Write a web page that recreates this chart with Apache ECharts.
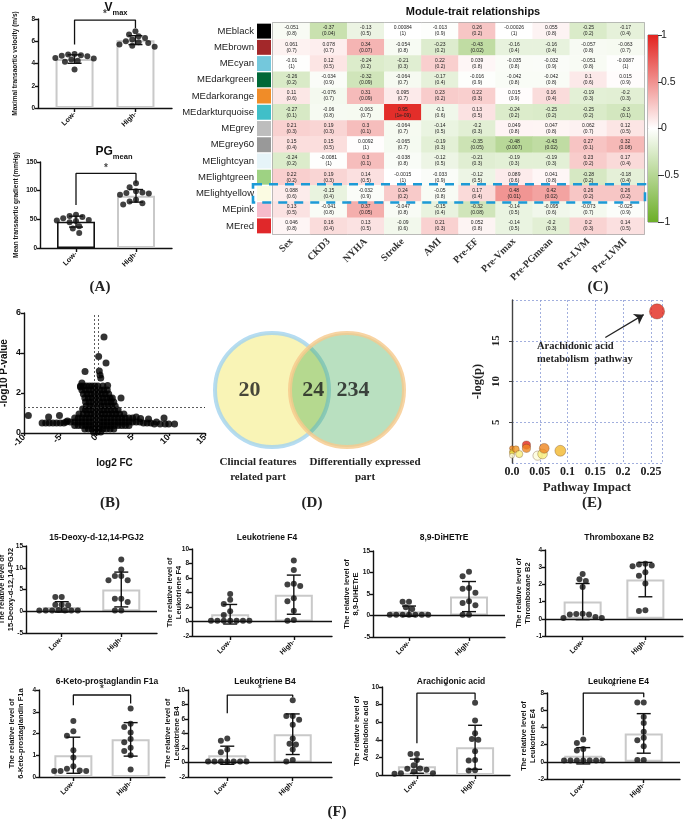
<!DOCTYPE html>
<html>
<head>
<meta charset="utf-8">
<script src="https://cdn.jsdelivr.net/npm/echarts@6/dist/echarts.min.js"></script>
<style>
  html, body { margin: 0; padding: 0; background: #fff; }
  #main { width: 685px; height: 821px; }
</style>
</head>
<body>
<div id="main"></div>
<script>
// ---------- data ----------
const groups = ['Low-', 'High-']

// (A) echo measurements
const vmaxLow = [4.85, 4.8, 4.75, 4.7, 4.65, 4.5, 4.45, 4.35, 4.25, 4.15, 3.45]
const vmaxHigh = [6.9, 6.6, 6.45, 6.3, 6.15, 6.0, 5.9, 5.85, 5.7, 5.6, 5.5]
const vmaxMean = [4.4, 6.1]
const vmaxSd = [0.38, 0.4]
const vmaxBracket = [5.7, 7.9, 7.2]
const pgLow = [58, 56, 54, 52, 49, 48, 47, 45, 38, 34, 26]
const pgHigh = [113, 106, 99, 97, 96, 95, 93, 84, 81, 78, 76]
const pgMean = [46, 91]
const pgSd = [9.5, 11]
const pgBracket = [75, 130, 113]

// (C) module-trait heatmap
const modules = ['MEblack', 'MEbrown', 'MEcyan', 'MEdarkgreen', 'MEdarkorange', 'MEdarkturquoise', 'MEgrey',
  'MEgrey60', 'MElightcyan', 'MElightgreen', 'MElightyellow', 'MEpink', 'MEred']
const moduleColors = ['#000000', '#a3282a', '#74c8dc', '#006837', '#f08c28', '#40bfc8', '#bdbdbd',
  '#999999', '#e6f4f8', '#9ed283', '#fbfbe2', '#f6bccb', '#e0282a']
const traits = ['Sex', 'CKD3', 'NYHA', 'Stroke', 'AMI', 'Pre-EF', 'Pre-Vmax', 'Pre-PGmean', 'Pre-LVM', 'Pre-LVMI']
const corr = [
  [-0.051, -0.37, -0.13, 0.00084, -0.013, 0.26, -0.00026, 0.055, -0.25, -0.17],
  [0.061, 0.078, 0.34, -0.054, -0.23, -0.43, -0.16, -0.16, -0.057, -0.063],
  [-0.01, 0.12, -0.24, -0.21, 0.22, 0.039, -0.035, -0.032, -0.051, -0.0087],
  [-0.26, -0.034, -0.32, -0.064, -0.17, -0.016, -0.042, -0.042, 0.1, 0.015],
  [0.11, -0.076, 0.31, 0.095, 0.23, 0.22, 0.015, 0.16, -0.19, -0.2],
  [-0.27, -0.06, -0.063, 0.95, -0.1, 0.13, -0.24, -0.25, -0.25, -0.3],
  [0.21, 0.19, 0.3, -0.064, -0.14, -0.2, 0.049, 0.047, 0.062, 0.12],
  [0.15, 0.15, 0.0092, -0.065, -0.19, -0.35, -0.48, -0.43, 0.27, 0.32],
  [-0.24, -0.0081, 0.3, -0.038, -0.12, -0.21, -0.19, -0.19, 0.23, 0.17],
  [0.22, 0.19, 0.14, -0.0015, -0.033, -0.12, 0.089, 0.041, -0.28, -0.18],
  [0.088, -0.15, -0.032, 0.24, -0.05, 0.17, 0.48, 0.42, 0.26, 0.26],
  [0.13, -0.041, 0.37, -0.047, -0.15, -0.32, -0.14, -0.095, -0.073, -0.025],
  [0.046, 0.16, 0.13, -0.09, 0.21, 0.052, -0.14, -0.2, 0.2, 0.14]
]
const pval = [
  ['0.8', '0.04', '0.5', '1', '0.9', '0.2', '1', '0.8', '0.2', '0.4'],
  ['0.7', '0.7', '0.07', '0.8', '0.2', '0.02', '0.4', '0.4', '0.8', '0.7'],
  ['1', '0.5', '0.2', '0.3', '0.2', '0.8', '0.8', '0.9', '0.8', '1'],
  ['0.2', '0.9', '0.09', '0.7', '0.4', '0.9', '0.8', '0.8', '0.6', '0.9'],
  ['0.6', '0.7', '0.09', '0.7', '0.2', '0.3', '0.9', '0.4', '0.3', '0.3'],
  ['0.1', '0.8', '0.7', '1e-09', '0.6', '0.5', '0.2', '0.2', '0.2', '0.1'],
  ['0.3', '0.3', '0.1', '0.7', '0.5', '0.3', '0.8', '0.8', '0.7', '0.5'],
  ['0.4', '0.5', '1', '0.7', '0.3', '0.05', '0.007', '0.02', '0.1', '0.08'],
  ['0.2', '1', '0.1', '0.8', '0.5', '0.3', '0.3', '0.3', '0.2', '0.4'],
  ['0.2', '0.3', '0.5', '1', '0.9', '0.5', '0.6', '0.8', '0.2', '0.4'],
  ['0.6', '0.4', '0.9', '0.2', '0.8', '0.4', '0.01', '0.02', '0.2', '0.2'],
  ['0.5', '0.8', '0.05', '0.8', '0.4', '0.08', '0.5', '0.6', '0.7', '0.9'],
  ['0.8', '0.4', '0.5', '0.6', '0.3', '0.8', '0.5', '0.3', '0.3', '0.5']
]
const highlightModule = 'MElightyellow'
const colorbarTicks = [-1, 1, 0.5]

// (B) volcano plot  [log2 FC, -log10 P]
const volcanoPoints = [
  [-9.4, 0.87], [-6.6, 0.8], [-5.1, 0.87], [-7.5, 0.5], [-7.0, 0.5], [-6.5, 0.5], [-6.0, 0.5], [-5.5, 0.5],
  [-5.0, 0.5], [-4.5, 0.5], [-4.0, 0.6],
  [-1.57, 3.08], [0.31, 3.83], [1.05, 4.8], [1.33, 3.5], [0.4, 3.1], [0.5, 2.9], [0.6, 2.75], [3.4, 1.75],
  [1.55, 2.37], [-2.0, 2.5], [-2.2, 2.3], [-1.9, 1.2], [-1.8, 0.95],
  [9.34, 0.75], [10.8, 0.45], [5.5, 0.8], [6.1, 0.72], [7.2, 0.7], [8.3, 0.55], [6.5, 0.5], [7.0, 0.5],
  [7.5, 0.5], [8.0, 0.45], [8.8, 0.45], [9.5, 0.45], [10.0, 0.45],
  [-2.2, 2.35], [-1.8, 2.35], [-1.4, 2.35], [-1.0, 2.35], [-0.6, 2.35], [-0.2, 2.35], [0.2, 2.35], [0.9, 2.35],
  [-2.0, 2.15], [-1.5, 2.15], [-1.0, 2.15], [-0.5, 2.15], [0, 2.15], [0.5, 2.15], [1.0, 2.15], [1.5, 2.15],
  [-1.8, 1.95], [-1.3, 1.95], [-0.8, 1.95], [-0.3, 1.95], [0.2, 1.95], [0.7, 1.95], [1.2, 1.95], [1.7, 1.95],
  [-1.6, 1.75], [-1.1, 1.75], [-0.6, 1.75], [-0.1, 1.75], [0.4, 1.75], [0.9, 1.75], [1.4, 1.75], [1.9, 1.75], [2.2, 1.75],
  [-1.5, 1.55], [-1.0, 1.55], [-0.5, 1.55], [0, 1.55], [0.5, 1.55], [1.0, 1.55], [1.5, 1.55], [2.0, 1.55], [2.4, 1.55],
  [-1.4, 1.35], [-0.9, 1.35], [-0.4, 1.35], [0.1, 1.35], [0.6, 1.35], [1.1, 1.35], [1.6, 1.35], [2.1, 1.35], [2.6, 1.35],
  [-1.5, 1.15], [-1.0, 1.15], [-0.5, 1.15], [0, 1.15], [0.5, 1.15], [1.0, 1.15], [1.5, 1.15], [2.0, 1.15], [2.5, 1.15], [3.0, 1.15],
  [-2.4, 0.95], [-1.3, 0.95], [-0.8, 0.95], [-0.3, 0.95], [0.2, 0.95], [0.7, 0.95], [1.2, 0.95], [1.7, 0.95],
  [2.2, 0.95], [2.7, 0.95], [3.2, 0.95], [3.8, 0.95],
  [-3.0, 0.75], [-2.5, 0.75], [-2.0, 0.75], [-1.5, 0.75], [-1.0, 0.75], [-0.5, 0.75], [0, 0.75], [0.5, 0.75], [1.0, 0.75],
  [1.5, 0.75], [2.0, 0.75], [2.5, 0.75], [3.0, 0.75], [3.5, 0.75], [4.0, 0.75], [4.5, 0.75], [5.0, 0.75],
  [-4.2, 0.55], [-3.6, 0.55], [-3.0, 0.55], [-2.5, 0.55], [-2.0, 0.55], [-1.5, 0.55], [-1.0, 0.55], [-0.5, 0.55], [0, 0.55],
  [0.5, 0.55], [1.0, 0.55], [1.5, 0.55], [2.0, 0.55], [2.5, 0.55], [3.0, 0.55], [3.5, 0.55], [4.0, 0.55], [4.5, 0.55],
  [5.0, 0.55], [5.5, 0.55], [6.0, 0.55],
  [-3.0, 0.38], [-2.5, 0.38], [-2.0, 0.38], [-1.5, 0.38], [-1.0, 0.38], [-0.5, 0.38], [0, 0.38], [0.5, 0.38],
  [1.0, 0.38], [1.5, 0.38], [2.0, 0.38], [2.5, 0.38], [3.0, 0.38], [3.5, 0.38], [4.0, 0.38], [4.5, 0.38],
  [-1.6, 0.2], [-1.1, 0.2], [-0.6, 0.2], [-0.1, 0.2], [0.4, 0.2], [0.9, 0.2], [1.4, 0.2], [1.9, 0.2], [2.4, 0.2],
  [-0.4, 0.05], [0.1, 0.05], [0.6, 0.05]
]
const fcCutoffs = [-0.32, 0.32]
const pCutoff = 1.3

// (D) venn
const vennSets = ['Clincial features\nrelated part', 'Differentially expressed\npart']
const vennCounts = [20, 24, 234]

// (E) pathway analysis
const pathImpact = [0, 0, 0, 0, 0.007, 0.013, 0.026, 0.026, 0.046, 0.055, 0.058, 0.087, 0.261]
const pathLogP = [1.8, 1.4, 1.2, 0.9, 1.7, 1.1, 2.2, 1.8, 0.9, 1.1, 1.8, 1.5, 18.6]

// (F) metabolite levels
const fNames = ['15-Deoxy-d-12,14-PGJ2', 'Leukotriene F4', '8,9-DiHETrE', 'Thromboxane B2',
  '6-Keto-prostaglandin F1a', 'Leukotriene B4', 'Arachidonic acid', 'Leukotriene E4']
const fLow = [
  [3.3, 3.3, 1.5, 1.5, 1.4, 0.3, 0.2, 0.2, 0.2, 0.2, 0.2, 0.2],
  [3.8, 3.0, 2.4, 1.4, 0.9, 0.1, 0.1, 0.1, 0.1, 0.1, 0.1, 0.1],
  [3.2, 3.2, 1.9, 1.5, 0.2, 0.2, 0.2, 0.2, 0.2, 0.2, 0.2],
  [2.6, 2.3, 2.2, 1.85, 0.3, 0.28, 0.25, 0.25, 0.1, 0.05, 0.05],
  [2.58, 2.1, 1.9, 1.23, 0.9, 0.5, 0.38, 0.3, 0.28, 0.28, 0.28],
  [3.3, 3.0, 1.8, 1.4, 0.15, 0.15, 0.15, 0.15, 0.15, 0.15, 0.15],
  [2.4, 2.4, 1.7, 1.1, 0.75, 0.7, 0.6, 0.4, 0.2, 0.2, 0.15],
  [2.6, 2.2, 1.5, 1.3, 0.15, 0.15, 0.15, 0.15, 0.15, 0.15, 0.15]
]
const fHigh = [
  [11.9, 9.6, 8.1, 8.1, 7.1, 7.1, 2.9, 2.9, 2.1, 0.2, 0.2],
  [8.4, 7.1, 5.2, 5.1, 4.9, 3.2, 2.8, 1.5, 0.2, 0.1],
  [10.2, 9.1, 6.4, 6.2, 5.3, 3.3, 2.9, 2.4, 0.2, 0.2],
  [3.2, 3.15, 3.1, 3.05, 2.7, 2.5, 2.05, 0.5, 0.45],
  [3.15, 2.45, 2.3, 2.05, 1.75, 1.6, 1.35, 1.2, 1.0, 0.35],
  [8.6, 6.4, 6.4, 5.9, 5.2, 3.3, 2.6, 2.5, 1.8, 0.35, 0.15],
  [8.2, 6.2, 4.75, 4.1, 4.0, 2.7, 1.7, 1.65, 0.55, 0.5],
  [6.9, 6.9, 5.2, 4.5, 3.5, 2.8, 2.5, 1.8, 0.2, 0.2]
]
const fMean = [[1.0, 5.0], [1.0, 3.7], [1.0, 4.4], [1.0, 2.28], [1.0, 1.73], [1.0, 3.9], [1.0, 3.15], [0.7, 3.3]]
const fSd = [[1.2, 4.0], [1.35, 2.7], [1.2, 3.5], [1.05, 1.0], [0.83, 0.77], [1.25, 2.8], [0.8, 2.5], [0.95, 2.3]]
const fBracket = [null, null, null, null, [3.3, 3.77, 3.38], [6.8, 9.3, 9.0], [3.6, 9.3, 8.55], [3.1, 8.0, 7.5]]
const fTicks = [[-5, 15, 5], [-2, 10, 2], [-5, 15, 5], [-1, 4, 1], [0, 4, 1], [-2, 10, 2], [0, 10, 2], [-2, 8, 2]]

// ---------- layout ----------
const sans = '"Liberation Sans", Arial, sans-serif'
const serif = '"Liberation Serif", "Times New Roman", serif'
const ink = '#111'
const fRects = [[26, 546, 131, 87], [192, 549, 140, 87], [373, 551, 132, 86], [545, 550, 138, 86],
  [39, 690, 126, 87], [188, 690, 144, 87], [382, 687, 128, 88], [547, 693, 133, 86]]
const fNameGaps = [11, 9, 13, 13, 14, 7, 12, 10]
const heatRect = [273, 23, 371, 211]

const grids = []
const xAxes = []
const yAxes = []
const series = []
const titles = []
const graphics = []
const visualMaps = []

function addGrid (rect, x, y) {
  const i = grids.length
  grids.push({ left: rect[0], top: rect[1], width: rect[2], height: rect[3], outerBoundsMode: 'none' })
  xAxes.push(Object.assign({ gridIndex: i }, x))
  yAxes.push(Object.assign({ gridIndex: i }, y))
  return i
}

// beeswarm-like spreading of dots that share a value
function swarm (vals, cx, yPx, xPx, r) {
  const placed = []
  return vals.map(v => {
    const py = v * yPx
    let off = 0
    for (let k = 0; k < 60; k++) {
      const cand = k === 0 ? 0 : (k % 2 ? -1 : 1) * Math.ceil(k / 2) * r
      if (placed.every(p => (p[0] - cand) ** 2 + (p[1] - py) ** 2 >= (1.8 * r) ** 2)) { off = cand; break }
    }
    placed.push([off, py])
    return [cx + off / xPx, v]
  })
}

function errorBarItem (params, api) {
  const x = api.value(0)
  const lo = api.coord([x, api.value(1)])
  const hi = api.coord([x, api.value(2)])
  const w = 7
  const style = { stroke: ink, lineWidth: 1.4 }
  return {
    type: 'group',
    children: [
      { type: 'line', shape: { x1: lo[0], y1: lo[1], x2: hi[0], y2: hi[1] }, style },
      { type: 'line', shape: { x1: lo[0] - w, y1: lo[1], x2: lo[0] + w, y2: lo[1] }, style },
      { type: 'line', shape: { x1: hi[0] - w, y1: hi[1], x2: hi[0] + w, y2: hi[1] }, style }
    ]
  }
}

function barPanel (rect, ticks, yName, nameGap, nameSize, low, high, mean, sd, bracket, lowBorder) {
  const [min, max, step] = ticks
  const axisLine = { color: ink, width: 1.4 }
  const g = addGrid(rect, {
    type: 'value', min: -0.6, max: 1.6,
    axisLine: { show: true, onZero: false, lineStyle: axisLine },
    axisTick: { show: true, customValues: [0, 1], length: 4, lineStyle: axisLine },
    axisLabel: {
      customValues: [0, 1], formatter: v => groups[Math.round(v)], rotate: 45, margin: 5,
      fontFamily: sans, fontWeight: 'bold', fontSize: 7, color: ink
    },
    splitLine: { show: false }
  }, {
    type: 'value', min, max, interval: step,
    name: yName, nameLocation: 'middle', nameGap, nameRotate: 90, nameMoveOverlap: false,
    nameTextStyle: { fontFamily: sans, fontWeight: 'bold', fontSize: nameSize, color: ink, lineHeight: nameSize + 1.5 },
    axisLine: { show: true, onZero: false, lineStyle: axisLine },
    axisTick: { show: true, length: 3, lineStyle: axisLine },
    axisLabel: { fontFamily: sans, fontWeight: 'bold', fontSize: 6.5, color: ink, margin: 3 },
    splitLine: { show: false }
  })
  const yPx = rect[3] / (max - min)
  const xPx = rect[2] / 2.2
  series.push({
    type: 'bar', xAxisIndex: g, yAxisIndex: g, barWidth: 38, silent: true, z: 2,
    data: mean.map((m, i) => ({ value: [i, m], itemStyle: i === 0 && lowBorder ? { borderColor: lowBorder, borderWidth: 1.6 } : {} })),
    itemStyle: { color: '#fff', borderColor: '#c9c9c9', borderWidth: 2 },
    markLine: min < 0 ? {
      silent: true, symbol: ['none', 'none'], label: { show: false },
      lineStyle: { color: ink, width: 1.4, type: 'solid' },
      data: [{ yAxis: 0 }]
    } : undefined
  })
  series.push({
    type: 'scatter', xAxisIndex: g, yAxisIndex: g, symbolSize: 6, silent: true, z: 3,
    itemStyle: { color: ink },
    data: swarm(low, 0, yPx, xPx, 3.2).concat(swarm(high, 1, yPx, xPx, 3.2))
  })
  series.push({
    type: 'custom', xAxisIndex: g, yAxisIndex: g, silent: true, z: 4,
    renderItem: errorBarItem, encode: { x: 0, y: [1, 2] },
    data: mean.map((m, i) => [i, m - sd[i], m + sd[i]])
  })
  if (bracket) {
    series.push({
      type: 'line', xAxisIndex: g, yAxisIndex: g, symbol: 'none', silent: true, z: 5,
      lineStyle: { color: ink, width: 1.3 },
      data: [[0, bracket[0]], [0, bracket[1]], [1, bracket[1]], [1, bracket[2]]]
    })
    series.push({
      type: 'scatter', xAxisIndex: g, yAxisIndex: g, symbolSize: 1, silent: true, z: 5,
      itemStyle: { color: 'rgba(0,0,0,0)' },
      label: { show: true, formatter: '*', position: 'top', distance: 0, fontSize: 10, fontWeight: 'bold', color: ink, fontFamily: sans },
      data: [[0.5, bracket[1]]]
    })
  }
  return g
}

// ---------- (A) ----------
barPanel([38, 19, 134, 89], [0, 8, 2], 'Maximal transaortic velocity (m/s)', 19, 6.5,
  vmaxLow, vmaxHigh, vmaxMean, vmaxSd, vmaxBracket)
barPanel([40, 162, 132, 86], [0, 150, 50], 'Mean transaortic gradient (mmHg)', 20, 6.5,
  pgLow, pgHigh, pgMean, pgSd, pgBracket, ink)
const subRich = {
  v: { fontSize: 12, fontWeight: 'bold', fontFamily: sans, color: ink, lineHeight: 15, verticalAlign: 'top' },
  s: { fontSize: 7.5, fontWeight: 'bold', fontFamily: sans, color: ink, lineHeight: 8, verticalAlign: 'bottom' }
}
titles.push({ text: '{v|V}{s|max}', left: 111, top: -3, textAlign: 'center', textStyle: { rich: subRich } })
titles.push({ text: '{v|PG}{s|mean}', left: 109, top: 141, textAlign: 'center', textStyle: { rich: subRich } })

// ---------- (C) heatmap ----------
const modGrid = addGrid([257, heatRect[1], 14, heatRect[3]],
  { type: 'value', min: 0, max: 1, show: false },
  {
    type: 'category', data: modules, inverse: true,
    axisLine: { show: false }, axisTick: { show: false },
    axisLabel: { fontFamily: sans, fontSize: 9.5, color: '#222', margin: 3 }
  })
series.push({
  type: 'bar', xAxisIndex: modGrid, yAxisIndex: modGrid, barCategoryGap: '8%', silent: true,
  data: moduleColors.map(c => ({ value: 1, itemStyle: { color: c } }))
})
const heatGrid = addGrid(heatRect,
  {
    type: 'category', data: traits,
    axisLine: { show: false }, axisTick: { show: false },
    axisLabel: { rotate: 45, margin: 6, fontFamily: serif, fontWeight: 'bold', fontSize: 10, color: '#333', interval: 0 }
  },
  { type: 'category', data: modules, inverse: true, axisLine: { show: false }, axisTick: { show: false }, axisLabel: { show: false } })
grids[heatGrid].show = true
grids[heatGrid].borderColor = '#8a8a8a'
grids[heatGrid].borderWidth = 1.5
grids[heatGrid].backgroundColor = 'rgba(0,0,0,0)'
const heatData = []
corr.forEach((row, r) => row.forEach((v, c) => heatData.push([c, r, v])))
series.push({
  type: 'heatmap', xAxisIndex: heatGrid, yAxisIndex: heatGrid, silent: true,
  data: heatData,
  label: {
    show: true, fontFamily: sans, fontSize: 5, lineHeight: 6, color: '#222',
    formatter: p => p.value[2] + '\n(' + pval[p.value[1]][p.value[0]] + ')'
  }
})
visualMaps.push({
  show: false, seriesIndex: series.length - 1, dimension: 2, min: -1, max: 1,
  inRange: { color: ['#6cae28', '#ffffff', '#e2231f'] }
})
titles.push({
  text: 'Module-trait relationships', left: 468, top: 1, textAlign: 'center',
  textStyle: { fontFamily: sans, fontWeight: 'bold', fontSize: 11, color: ink }
})
// colour key
const barGrid = addGrid([648, 35, 10, 187],
  { type: 'category', data: [''], show: false },
  {
    type: 'value', position: 'right', min: colorbarTicks[0], max: colorbarTicks[1], interval: colorbarTicks[2],
    axisLine: { show: false }, axisTick: { show: true, length: 4, lineStyle: { color: '#333' } },
    axisLabel: { fontFamily: sans, fontSize: 10.5, color: '#222', margin: 3 },
    splitLine: { show: false }
  })
grids[barGrid].show = true
grids[barGrid].borderColor = '#777'
grids[barGrid].borderWidth = 1
grids[barGrid].backgroundColor = 'rgba(0,0,0,0)'
series.push({
  type: 'bar', xAxisIndex: barGrid, yAxisIndex: barGrid, barWidth: '100%', barGap: '-100%', silent: true,
  data: [colorbarTicks[1]],
  itemStyle: { color: { type: 'linear', x: 0, y: 0, x2: 0, y2: 1, colorStops: [{ offset: 0, color: '#e2231f' }, { offset: 1, color: '#ffffff' }] } }
})
series.push({
  type: 'bar', xAxisIndex: barGrid, yAxisIndex: barGrid, barWidth: '100%', barGap: '-100%', silent: true,
  data: [colorbarTicks[0]],
  itemStyle: { color: { type: 'linear', x: 0, y: 0, x2: 0, y2: 1, colorStops: [{ offset: 0, color: '#ffffff' }, { offset: 1, color: '#6cae28' }] } }
})
// dashed highlight around one module row
const rowH = heatRect[3] / modules.length
const hiRow = modules.indexOf(highlightModule)
graphics.push({
  type: 'rect', z: 100, silent: true,
  shape: { x: 253, y: heatRect[1] + hiRow * rowH - 1, width: heatRect[0] + heatRect[2] + 1 - 253, height: rowH + 2 },
  style: { fill: 'none', stroke: '#1c9ad6', lineWidth: 2.6, lineDash: [9, 7] }
})

// ---------- (B) volcano ----------
const volGrid = addGrid([24, 313, 181, 120],
  {
    type: 'value', min: -10, max: 15, interval: 5,
    name: 'log2 FC', nameLocation: 'middle', nameGap: 25,
    nameTextStyle: { fontFamily: sans, fontWeight: 'bold', fontSize: 10, color: ink },
    axisLine: { show: true, onZero: false, lineStyle: { color: ink, width: 1.4 } },
    axisTick: { show: true, length: 3, lineStyle: { color: ink, width: 1.4 } },
    axisLabel: { rotate: 45, fontFamily: sans, fontWeight: 'bold', fontSize: 9, color: ink, margin: 3 },
    splitLine: { show: false }
  },
  {
    type: 'value', min: 0, max: 6, interval: 2,
    name: '-log10 P-value', nameLocation: 'middle', nameGap: 15,
    nameTextStyle: { fontFamily: sans, fontWeight: 'bold', fontSize: 10, color: ink },
    axisLine: { show: true, onZero: false, lineStyle: { color: ink, width: 1.4 } },
    axisTick: { show: true, length: 3, lineStyle: { color: ink, width: 1.4 } },
    axisLabel: { fontFamily: sans, fontWeight: 'bold', fontSize: 9, color: ink, margin: 3 },
    splitLine: { show: false }
  })
series.push({
  type: 'scatter', xAxisIndex: volGrid, yAxisIndex: volGrid, symbolSize: 7, silent: true,
  itemStyle: { color: '#000' },
  data: volcanoPoints,
  markLine: {
    silent: true, symbol: ['none', 'none'], label: { show: false },
    lineStyle: { color: '#333', width: 0.8, type: [2, 2] },
    data: [{ xAxis: fcCutoffs[0] }, { xAxis: fcCutoffs[1] }, { yAxis: pCutoff }]
  }
})

// ---------- (D) venn ----------
const vennGrid = addGrid([197, 330, 225, 120],
  { type: 'value', min: 0, max: 3, show: false },
  { type: 'value', min: 0, max: 1, show: false })
series.push({
  type: 'scatter', xAxisIndex: vennGrid, yAxisIndex: vennGrid, symbolSize: 114, silent: true,
  data: [
    { value: [1, 0.5], itemStyle: { color: '#f8f1a4', borderColor: '#a3d3ef', borderWidth: 4 } },
    { value: [2, 0.5], itemStyle: { color: 'rgba(48,162,68,0.42)', borderColor: '#f6c98c', borderWidth: 4 } }
  ]
})
const vennLabelX = [0.7, 1.55, 2.08]
series.push({
  type: 'scatter', xAxisIndex: vennGrid, yAxisIndex: vennGrid, symbolSize: 1, silent: true, z: 5,
  itemStyle: { color: 'rgba(0,0,0,0)' },
  label: {
    show: true, position: 'inside', formatter: p => String(p.value[2]),
    fontFamily: serif, fontWeight: 'bold', fontSize: 22, color: '#1a1a1a'
  },
  data: vennCounts.map((n, i) => [vennLabelX[i], 0.5, n])
})
;[[258, vennSets[0]], [365, vennSets[1]]].forEach(([x, t]) => {
  graphics.push({
    type: 'text', x, y: 455, silent: true,
    style: { text: t, font: 'bold 11px ' + serif, fill: '#222', textAlign: 'center', align: 'center', textVerticalAlign: 'top', verticalAlign: 'top', lineHeight: 15 }
  })
})

// ---------- (E) pathway impact ----------
const pathGrid = addGrid([512, 300, 150, 163],
  {
    type: 'value', min: 0, max: 0.27, interval: 0.05,
    name: 'Pathway Impact', nameLocation: 'middle', nameGap: 18,
    nameTextStyle: { fontFamily: serif, fontWeight: 'bold', fontSize: 12.5, color: '#222' },
    axisLine: { show: false }, axisTick: { show: false },
    axisLabel: { showMaxLabel: false, formatter: v => (v === 0 ? '0.0' : String(+v.toFixed(2))), fontFamily: serif, fontWeight: 'bold', fontSize: 12, color: '#222', margin: 3 },
    splitLine: { show: true, lineStyle: { color: '#8b9bd6', type: [2, 2], width: 0.8 } }
  },
  {
    type: 'value', min: 0, max: 20, interval: 5, offset: 6,
    name: '-log(p)', nameLocation: 'middle', nameGap: 22,
    nameTextStyle: { fontFamily: serif, fontWeight: 'bold', fontSize: 12.5, color: '#222' },
    axisLine: { show: true, lineStyle: { color: '#444', width: 1.4 } },
    axisTick: { show: true, length: 3, lineStyle: { color: '#444' } },
    axisLabel: { showMinLabel: false, showMaxLabel: false, rotate: 90, fontFamily: serif, fontWeight: 'bold', fontSize: 11, color: '#222', margin: 4 },
    splitLine: { show: true, lineStyle: { color: '#8b9bd6', type: [2, 2], width: 0.8 } }
  })
series.push({
  type: 'scatter', xAxisIndex: pathGrid, yAxisIndex: pathGrid, silent: true, z: 3,
  symbolSize: v => 5 + 20 * Math.sqrt(v[0]),
  itemStyle: { borderColor: 'rgba(90,50,20,0.55)', borderWidth: 0.7 },
  data: pathImpact.map((x, i) => [x, pathLogP[i]]),
  markLine: {
    silent: true, symbol: ['none', 'arrow'], symbolSize: 9, label: { show: false },
    lineStyle: { color: '#222', width: 1.3, type: 'solid' },
    data: [[{ coord: [0.168, 15.4] }, { coord: [0.237, 18.2] }]]
  }
})
visualMaps.push({
  show: false, seriesIndex: series.length - 1, dimension: 1, min: 0.9, max: 2.2,
  inRange: { color: ['#fdfbd8', '#f3e640', '#f2b02a', '#ee7a1e', '#e2281c'] }
})
graphics.push({
  type: 'text', x: 537, y: 340, silent: true,
  style: { text: 'Arachidonic acid\nmetabolism  pathway', font: 'bold 10.5px ' + serif, fill: '#222', lineHeight: 13 }
})

// ---------- (F) ----------
fNames.forEach((name, i) => {
  const r = fRects[i]
  barPanel(r, fTicks[i], 'The relative level of\n' + name, fNameGaps[i], 7.5,
    fLow[i], fHigh[i], fMean[i], fSd[i], fBracket[i])
  titles.push({
    text: name, left: r[0] + r[2] / 2, top: i < 4 ? 528 : 672, textAlign: 'center',
    textStyle: { fontFamily: sans, fontWeight: 'bold', fontSize: 8.5, color: ink }
  })
})

// ---------- panel letters ----------
;[['(A)', 100, 287], ['(B)', 110, 503], ['(C)', 598, 287], ['(D)', 312, 503], ['(E)', 592, 503], ['(F)', 337, 812]]
  .forEach(([t, x, y]) => {
    graphics.push({
      type: 'text', x, y, silent: true,
      style: { text: t, font: 'bold 15px ' + serif, fill: '#222', textAlign: 'center', align: 'center', textVerticalAlign: 'middle', verticalAlign: 'middle' }
    })
  })

const chart = echarts.init(document.getElementById('main'))
chart.setOption({
  animation: false,
  backgroundColor: '#fff',
  textStyle: { fontFamily: sans },
  title: titles,
  grid: grids,
  xAxis: xAxes,
  yAxis: yAxes,
  visualMap: visualMaps,
  series,
  graphic: graphics
})
</script>
</body>
</html>
